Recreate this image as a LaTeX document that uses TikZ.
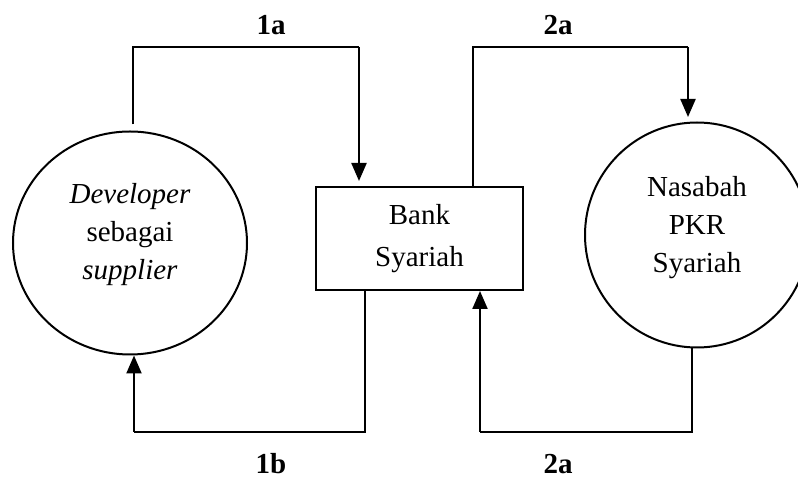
\documentclass[tikz,border=0pt]{standalone}
\usepackage{fontspec}
\setmainfont{Liberation Serif}
\usepackage{tikz}
\usetikzlibrary{shapes.geometric,arrows.meta}
\definecolor{black}{RGB}{0,0,0}

\tikzset{
    party/.style={draw=black, line width=2pt, ellipse, inner sep=0pt, align=center,
        font=\fontsize{29}{38}\selectfont},
    bankbox/.style={draw=black, line width=2pt, rectangle, minimum width=207pt,
        minimum height=103pt, align=center, font=\fontsize{29}{38}\selectfont},
    flowlabel/.style={inner sep=0pt, anchor=base, font=\fontsize{29}{34}\selectfont\bfseries},
    thinline/.style={draw=black, line width=1.1pt},
    arrowline/.style={draw=black, line width=2.2pt, -{Triangle[width=15pt,length=18pt]}}
}

\begin{document}
\begin{tikzpicture}[x=1pt, y=1pt]
    \useasboundingbox (0,0) rectangle (798,479);

    % the three parties
    \node[party, minimum width=234pt, minimum height=223pt, text depth=24pt] (dev) at (130,236)
        {\textit{Developer}\\sebagai\\\textit{supplier}};
    \node[bankbox, yshift=-2pt] (bank) at (419.5,242.5) {Bank\\[4pt]Syariah};
    \node[party, minimum width=224pt, minimum height=225pt, text depth=22pt] (nsb) at (697,244)
        {Nasabah\\PKR\\Syariah};

    % levels of the top and bottom runs
    \coordinate (top) at (0,432);
    \coordinate (bot) at (0,47);

    % 1a: developer -> bank
    \coordinate (s1a) at ([xshift=3pt,yshift=6pt]dev.north);
    \coordinate (e1a) at ([xshift=-60.5pt,yshift=5pt]bank.north);
    \draw[thinline] (s1a) -- (s1a |- top) -- (e1a |- top);
    \draw[arrowline] (e1a |- top) -- (e1a);

    % 1b: bank -> developer
    \coordinate (s1b) at ([xshift=-54.5pt]bank.south);
    \coordinate (e1b) at ([xshift=4pt]dev.south);
    \draw[thinline] (s1b) -- (s1b |- bot) -- (e1b |- bot);
    \draw[arrowline] (e1b |- bot) -- (e1b);

    % 2a: bank -> nasabah
    \coordinate (s2a) at ([xshift=53.5pt]bank.north);
    \coordinate (e2a) at ([xshift=-9pt,yshift=4.5pt]nsb.north);
    \draw[thinline] (s2a) -- (s2a |- top) -- (e2a |- top);
    \draw[arrowline] (e2a |- top) -- (e2a);

    % 2a: nasabah -> bank
    \coordinate (s2b) at ([xshift=-5pt]nsb.south);
    \coordinate (e2b) at ([xshift=60.5pt]bank.south);
    \draw[thinline] (s2b) -- (s2b |- bot) -- (e2b |- bot);
    \draw[arrowline] (e2b |- bot) -- (e2b);

    % flow numbers
    \node[flowlabel] (l1a) at (271,444) {1a};
    \node[flowlabel] (l2a) at (558,444) {2a};
    \node[flowlabel] (l1b) at (271,5) {1b};
    \node[flowlabel] (l2b) at (558,5) {2a};
\end{tikzpicture}
\end{document}
